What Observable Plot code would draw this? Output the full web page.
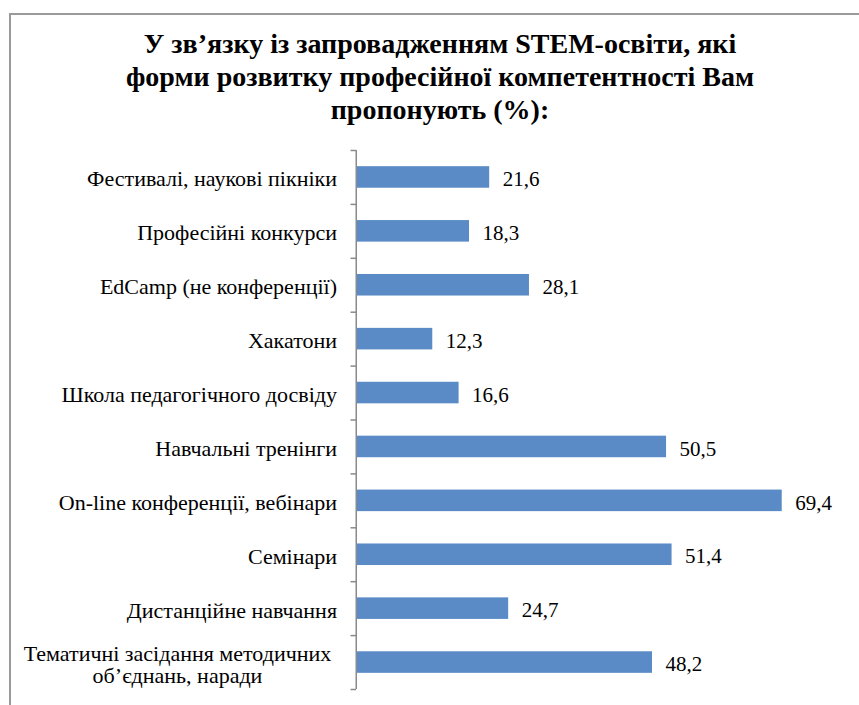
<!DOCTYPE html>
<html>
<head>
<meta charset="utf-8">
<script src="https://cdn.jsdelivr.net/npm/d3@7"></script>
<script src="https://cdn.jsdelivr.net/npm/@observablehq/plot@0.6"></script>
<style>
  html, body { margin: 0; padding: 0; background: #fff; overflow: hidden; }
  #wrap { position: relative; width: 859px; height: 705px; overflow: hidden; }
  #frame { position: absolute; left: 9px; top: 13px; width: 1000px; height: 1000px;
           border-top: 2px solid #9a9a9a; border-left: 2px solid #9a9a9a; }
  #title { position: relative; width: 880px; height: 113px; padding-top: 27px;
           font-family: "Liberation Serif", "Times New Roman", serif; font-weight: bold;
           font-size: 28px; line-height: 33px; text-align: center; color: #000; }
  #chart { position: relative; }
</style>
</head>
<body>
<div id="wrap">
  <div id="frame"></div>
  <div id="title">У зв’язку із запровадженням STEM-освіти, які<br>форми розвитку професійної компетентності Вам<br>пропонують (%):</div>
  <div id="chart"></div>
</div>
<script>
const categories = [
  "Фестивалі, наукові пікніки",
  "Професійні конкурси",
  "EdCamp (не конференції)",
  "Хакатони",
  "Школа педагогічного досвіду",
  "Навчальні тренінги",
  "On-line конференції, вебінари",
  "Семінари",
  "Дистанційне навчання",
  "Тематичні засідання методичних\nоб’єднань, наради"
];
const values = [21.6, 18.3, 28.1, 12.3, 16.6, 50.5, 69.4, 51.4, 24.7, 48.2];

const data = categories.map((c, i) => ({category: c, value: values[i]}));
const single = data.filter(d => !d.category.includes("\n"));
const multi = data.filter(d => d.category.includes("\n"));
const fmt = v => String(v).replace(".", ",");
const step = (689 - 150) / categories.length;
const font = "'Liberation Serif', 'Times New Roman', serif";

const chart = Plot.plot({
  width: 859,
  height: 565,
  marginTop: 10,
  marginBottom: 16,
  marginLeft: 357,
  marginRight: 12.4,
  style: {background: "transparent", fontFamily: font},
  x: {domain: [0, 80], axis: null},
  y: {domain: categories, paddingInner: 0.6, paddingOuter: 0.3, round: false, axis: null},
  marks: [
    Plot.barX(data, {x: "value", y: "category", fill: "#5b8bc6"}),
    Plot.ruleX([0], {dx: -1.25, stroke: "#8a8a8a", strokeWidth: 1.5}),
    Plot.ruleY(categories, {y: d => d, x1: -5.5 / 6.12, x2: 0, dx: -1, dy: -step / 2, stroke: "#8a8a8a", strokeWidth: 1.5}),
    Plot.ruleY([categories[categories.length - 1]], {y: d => d, x1: -5.5 / 6.12, x2: 0, dx: -1, dy: step / 2, stroke: "#8a8a8a", strokeWidth: 1.5}),
    Plot.text(single, {y: "category", text: "category", frameAnchor: "left", dx: -20.5, dy: 2, textAnchor: "end", fontSize: 22, fill: "#000"}),
    Plot.text(multi, {y: "category", text: "category", frameAnchor: "left", dx: -180, dy: 2, textAnchor: "middle", lineHeight: 1.02, fontSize: 22, fill: "#000"}),
    Plot.text(data, {x: "value", y: "category", text: d => fmt(d.value), dx: 13, dy: 2, textAnchor: "start", fontSize: 21, fill: "#000"})
  ]
});
document.getElementById("chart").appendChild(chart);
</script>
</body>
</html>
